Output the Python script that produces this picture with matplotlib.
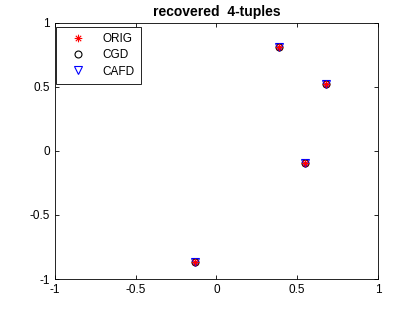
import numpy as np
import matplotlib
matplotlib.use("Agg")
import matplotlib.pyplot as plt
from matplotlib.path import Path

plt.rcParams['font.family'] = ['Liberation Sans', 'DejaVu Sans']
plt.rcParams['font.size'] = 8.5

# recovered 4-tuples (real, imag) for each method
orig_x = [0.387, 0.678, 0.548, -0.133]
orig_y = [0.810, 0.520, -0.094, -0.867]
cgd_x = [0.387, 0.678, 0.548, -0.133]
cgd_y = [0.810, 0.520, -0.094, -0.867]
cafd_x = [0.387, 0.678, 0.548, -0.133]
cafd_y = [0.810, 0.520, -0.094, -0.867]

ticks = [-1, -0.5, 0, 0.5, 1]
tick_labels = ['-1', '-0.5', '0', '0.5', '1']

# MATLAB-style asterisk: plus and cross overlaid
d = 0.707
asterisk = Path(
    [(-1, 0), (1, 0), (0, -1), (0, 1), (-d, -d), (d, d), (-d, d), (d, -d)],
    [Path.MOVETO, Path.LINETO] * 4,
)

fig = plt.figure(figsize=(4.19, 3.13), dpi=100)
ax = fig.add_axes([0.131, 0.1086, 0.771, 0.818])

ax.plot(orig_x, orig_y, marker=asterisk, color='red', markersize=5.5, markeredgewidth=0.8,
        linestyle='none', label='ORIG', zorder=5)
ax.plot(cgd_x, cgd_y, 'o', markerfacecolor='none', markeredgecolor='black', markersize=5,
        markeredgewidth=0.8, linestyle='none', label='CGD', zorder=3)
ax.plot(cafd_x, cafd_y, 'v', markerfacecolor='none', markeredgecolor='blue', markersize=5.5,
        markeredgewidth=0.8, linestyle='none', label='CAFD', zorder=4)

ax.set_xlim(-1, 1)
ax.set_ylim(-1, 1)
ax.set_xticks(ticks)
ax.set_xticklabels(tick_labels)
ax.set_yticks(ticks)
ax.set_yticklabels(tick_labels)
ax.tick_params(direction='in', top=True, right=True, length=3, width=0.6, labelsize=8.5)
for s in ax.spines.values():
    s.set_linewidth(0.6)

ax.set_title('recovered  4-tuples', fontsize=10, fontweight='bold', pad=5)
leg = ax.legend(loc='upper left', bbox_to_anchor=(0.003, 0.985), fancybox=False,
                edgecolor='black', framealpha=1, borderaxespad=0, handletextpad=0.7,
                handlelength=2.7, borderpad=0.55, labelspacing=0.35)
leg.get_frame().set_linewidth(0.6)

fig.savefig('out.png', dpi=100)
